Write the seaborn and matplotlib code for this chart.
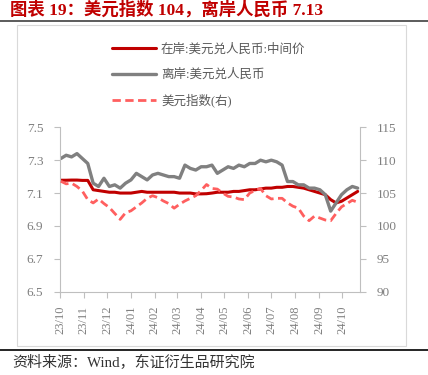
import pandas as pd
import matplotlib.pyplot as plt
import matplotlib.dates as mdates
from matplotlib.lines import Line2D
from matplotlib.patches import Rectangle
import seaborn as sns

# weekly readings, Oct 2023 - Oct 2024
weeks = pd.date_range('2023-10-02', periods=56, freq='7D')

cny_mid = [7.178, 7.178, 7.179, 7.179, 7.177, 7.177, 7.120, 7.115, 7.110, 7.105,
           7.105, 7.100, 7.100, 7.100, 7.105, 7.110, 7.105, 7.105, 7.105, 7.105,
           7.105, 7.105, 7.100, 7.100, 7.100, 7.095, 7.095, 7.096, 7.100, 7.105,
           7.105, 7.105, 7.110, 7.110, 7.115, 7.120, 7.120, 7.125, 7.130, 7.130,
           7.135, 7.135, 7.140, 7.140, 7.135, 7.130, 7.120, 7.110, 7.100, 7.090,
           7.060, 7.040, 7.050, 7.070, 7.090, 7.110]

cnh = [7.31, 7.33, 7.32, 7.34, 7.31, 7.28, 7.16, 7.14, 7.19, 7.14,
       7.15, 7.13, 7.16, 7.18, 7.22, 7.20, 7.18, 7.21, 7.22, 7.21,
       7.20, 7.20, 7.19, 7.27, 7.25, 7.24, 7.26, 7.26, 7.27, 7.22,
       7.24, 7.26, 7.25, 7.27, 7.26, 7.28, 7.28, 7.30, 7.29, 7.30,
       7.29, 7.27, 7.17, 7.17, 7.15, 7.15, 7.13, 7.13, 7.12, 7.09,
       6.99, 7.04, 7.09, 7.12, 7.14, 7.13]

dxy = [106.8, 106.4, 106.5, 106.0, 105.3, 104.0, 103.5, 104.1, 103.4, 102.8,
       101.9, 101.0, 102.0, 102.3, 102.9, 103.5, 104.2, 104.6, 104.3, 103.8,
       103.4, 102.7, 103.3, 103.8, 104.2, 104.6, 105.4, 106.3, 105.7, 105.6,
       105.0, 104.5, 104.4, 104.1, 104.0, 105.0, 105.4, 105.7, 104.6, 104.1,
       104.2, 104.2, 103.5, 103.0, 102.7, 101.5, 100.8, 101.5, 101.2, 100.9,
       100.8, 101.9, 102.9, 103.4, 103.9, 103.6]

labels = ['在岸:美元兑人民币:中间价', '离岸:美元兑人民币', '美元指数(右)']
left_ticks = [6.5, 6.7, 6.9, 7.1, 7.3, 7.5]
right_ticks = [90, 95, 100, 105, 110, 115]

df = pd.DataFrame({'date': weeks, 'cny_mid': cny_mid, 'cnh': cnh, 'dxy': dxy})

sns.set_style('white')
plt.rcParams['font.family'] = ['Liberation Serif', 'Noto Sans CJK SC']

fig = plt.figure(figsize=(4.28, 3.75), dpi=100)
ax = fig.add_axes([60 / 428, 1 - 291.7 / 375, 300 / 428, 164.4 / 375])
ax2 = ax.twinx()

sns.lineplot(data=df, x='date', y='cny_mid', ax=ax, color='#C00000', lw=2.2,
             label=labels[0], legend=False)
sns.lineplot(data=df, x='date', y='cnh', ax=ax, color='#808080', lw=2.4,
             label=labels[1], legend=False)
sns.lineplot(data=df, x='date', y='dxy', ax=ax2, color='#FF5F5F', lw=2.0,
             label=labels[2], legend=False)
ax2.lines[0].set_dashes([3, 1.6])

# axes
ax.set_xlim(pd.Timestamp('2023-10-01'), pd.Timestamp('2024-10-24'))
ax.set_ylim(6.5, 7.5)
ax.set_yticks(left_ticks)
ax.set_yticklabels([f'{v:.1f}' for v in left_ticks])
ax2.set_ylim(90, 115)
ax2.set_yticks(right_ticks)
ax.xaxis.set_major_locator(mdates.MonthLocator())
ax.xaxis.set_major_formatter(mdates.DateFormatter('%y/%m'))
for a in (ax, ax2):
    a.set_xlabel('')
    a.set_ylabel('')
    a.spines['top'].set_visible(False)
    for s in a.spines.values():
        s.set_color('#BFBFBF')
ax.spines['right'].set_visible(False)
ax2.spines['left'].set_visible(False)
ax2.spines['bottom'].set_visible(False)

ax.tick_params(axis='y', left=True, direction='out', length=4, color='#BFBFBF',
               labelcolor='#7F7F7F', labelsize=9.5, pad=8)
ax2.tick_params(axis='y', right=True, direction='out', length=4, color='#BFBFBF',
                labelcolor='#7F7F7F', labelsize=9.5, pad=8)
ax.tick_params(axis='x', bottom=True, direction='out', length=4, color='#BFBFBF',
               labelcolor='#7F7F7F', labelsize=9, pad=6, rotation=90)

fig.legend(handles=[ax.lines[0], ax.lines[1], ax2.lines[0]], labels=labels,
           loc='upper left', bbox_to_anchor=(106 / 428, 1 - 37 / 375),
           frameon=False, fontsize=9, handlelength=3.5, handletextpad=0.4,
           labelspacing=1.05, borderpad=0, labelcolor='#595959')

# frame, rules, title, source
fig.add_artist(Rectangle((17 / 428, 1 - 346 / 375), 389 / 428, 321 / 375,
                         transform=fig.transFigure, fill=False, ec='#D9D9D9', lw=0.8))
fig.add_artist(Line2D([0, 1], [1 - 21 / 375] * 2, transform=fig.transFigure,
                      color='#404040', lw=1.2))
fig.add_artist(Line2D([0, 1], [1 - 350 / 375] * 2, transform=fig.transFigure,
                      color='black', lw=1.2))
fig.text(10 / 428, 1 - 10 / 375, '图表 19：美元指数 104，离岸人民币 7.13',
         ha='left', va='center', color='#C00000', fontsize=12.5, fontweight='bold')
fig.text(12 / 428, 1 - 362 / 375, '资料来源：Wind，东证衍生品研究院',
         ha='left', va='center', color='#333333', fontsize=10.8)

fig.savefig('out.png', dpi=100)
